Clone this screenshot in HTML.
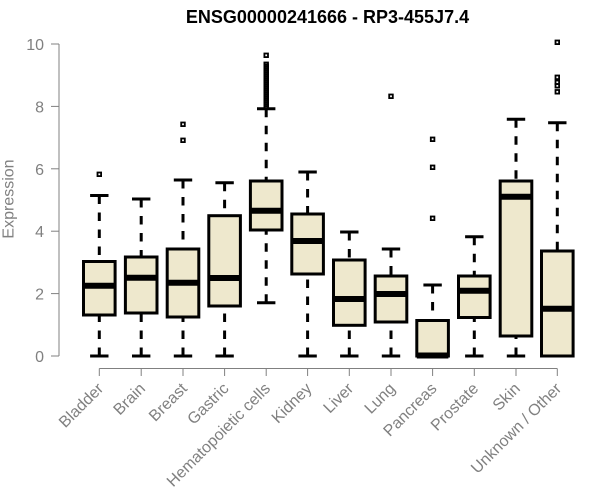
<!DOCTYPE html>
<html><head><meta charset="utf-8"><style>
html,body{margin:0;padding:0;background:#fff;}
svg{display:block;}
text{font-family:"Liberation Sans",Arial,sans-serif;}
</style></head><body>
<svg width="600" height="500" viewBox="0 0 600 500" xmlns="http://www.w3.org/2000/svg">
<rect width="600" height="500" fill="#fff"/>
<text x="327.5" y="23" font-size="18" font-weight="bold" text-anchor="middle" fill="#000">ENSG00000241666 - RP3-455J7.4</text>

<!-- Y axis -->
<g stroke="#808080" stroke-width="1" fill="none">
<line x1="59" y1="44" x2="59" y2="356"/>
<line x1="51" y1="356" x2="59" y2="356"/>
<line x1="51" y1="293.6" x2="59" y2="293.6"/>
<line x1="51" y1="231.2" x2="59" y2="231.2"/>
<line x1="51" y1="168.8" x2="59" y2="168.8"/>
<line x1="51" y1="106.4" x2="59" y2="106.4"/>
<line x1="51" y1="44" x2="59" y2="44"/>
</g>
<g font-size="16" fill="#808080" text-anchor="end">
<text x="44" y="362">0</text>
<text x="44" y="299.6">2</text>
<text x="44" y="237.2">4</text>
<text x="44" y="174.8">6</text>
<text x="44" y="112.4">8</text>
<text x="44" y="50">10</text>
</g>
<text transform="translate(13.5,199) rotate(-90)" font-size="16" fill="#808080" text-anchor="middle">Expression</text>

<!-- X axis -->
<g stroke="#808080" stroke-width="1" fill="none">
<line x1="99.3" y1="368.5" x2="557.3" y2="368.5"/>
<line x1="99.3" y1="368.5" x2="99.3" y2="376"/>
<line x1="141.2" y1="368.5" x2="141.2" y2="376"/>
<line x1="183" y1="368.5" x2="183" y2="376"/>
<line x1="224.6" y1="368.5" x2="224.6" y2="376"/>
<line x1="266.2" y1="368.5" x2="266.2" y2="376"/>
<line x1="307.6" y1="368.5" x2="307.6" y2="376"/>
<line x1="349.3" y1="368.5" x2="349.3" y2="376"/>
<line x1="391" y1="368.5" x2="391" y2="376"/>
<line x1="432.6" y1="368.5" x2="432.6" y2="376"/>
<line x1="474.3" y1="368.5" x2="474.3" y2="376"/>
<line x1="516" y1="368.5" x2="516" y2="376"/>
<line x1="557.3" y1="368.5" x2="557.3" y2="376"/>
</g>
<g font-size="16" fill="#808080" text-anchor="end">
<text transform="translate(104.3,389.5) rotate(-45)">Bladder</text>
<text transform="translate(146.2,389.5) rotate(-45)">Brain</text>
<text transform="translate(188,389.5) rotate(-45)">Breast</text>
<text transform="translate(229.6,389.5) rotate(-45)">Gastric</text>
<text transform="translate(271.2,389.5) rotate(-45)">Hematopoietic cells</text>
<text transform="translate(312.6,389.5) rotate(-45)">Kidney</text>
<text transform="translate(354.3,389.5) rotate(-45)">Liver</text>
<text transform="translate(396,389.5) rotate(-45)">Lung</text>
<text transform="translate(437.6,389.5) rotate(-45)">Pancreas</text>
<text transform="translate(479.3,389.5) rotate(-45)">Prostate</text>
<text transform="translate(521,389.5) rotate(-45)">Skin</text>
<text transform="translate(562.3,389.5) rotate(-45)">Unknown / Other</text>
</g>

<!-- Whiskers (dashed) -->
<g stroke="#000" stroke-width="3" stroke-dasharray="8.5 8.5" fill="none">
<line x1="99.3" y1="195.5" x2="99.3" y2="261.5"/><line x1="99.3" y1="356" x2="99.3" y2="315"/>
<line x1="141.2" y1="199" x2="141.2" y2="257"/><line x1="141.2" y1="356" x2="141.2" y2="313"/>
<line x1="183" y1="180" x2="183" y2="249"/><line x1="183" y1="356" x2="183" y2="317"/>
<line x1="224.6" y1="182.7" x2="224.6" y2="215.7"/><line x1="224.6" y1="356" x2="224.6" y2="306"/>
<line x1="266.2" y1="108.7" x2="266.2" y2="181"/><line x1="266.2" y1="302.7" x2="266.2" y2="230"/>
<line x1="307.6" y1="172" x2="307.6" y2="214"/><line x1="307.6" y1="356" x2="307.6" y2="274"/>
<line x1="349.3" y1="232" x2="349.3" y2="260"/><line x1="349.3" y1="356" x2="349.3" y2="325.3"/>
<line x1="391" y1="249" x2="391" y2="276"/><line x1="391" y1="356" x2="391" y2="322"/>
<line x1="432.6" y1="285" x2="432.6" y2="320.5"/>
<line x1="474.3" y1="236.7" x2="474.3" y2="276"/><line x1="474.3" y1="356" x2="474.3" y2="317.5"/>
<line x1="516" y1="119.3" x2="516" y2="181"/><line x1="516" y1="356" x2="516" y2="336"/>
<line x1="557.3" y1="122.7" x2="557.3" y2="251"/>
</g>
<!-- Caps -->
<g stroke="#000" stroke-width="3" fill="none">
<line x1="90.1" y1="195.5" x2="108.5" y2="195.5"/><line x1="90.1" y1="356" x2="108.5" y2="356"/>
<line x1="132" y1="199" x2="150.4" y2="199"/><line x1="132" y1="356" x2="150.4" y2="356"/>
<line x1="173.8" y1="180" x2="192.2" y2="180"/><line x1="173.8" y1="356" x2="192.2" y2="356"/>
<line x1="215.4" y1="182.7" x2="233.8" y2="182.7"/><line x1="215.4" y1="356" x2="233.8" y2="356"/>
<line x1="257" y1="108.7" x2="275.4" y2="108.7"/><line x1="257" y1="302.7" x2="275.4" y2="302.7"/>
<line x1="298.4" y1="172" x2="316.8" y2="172"/><line x1="298.4" y1="356" x2="316.8" y2="356"/>
<line x1="340.1" y1="232" x2="358.5" y2="232"/><line x1="340.1" y1="356" x2="358.5" y2="356"/>
<line x1="381.8" y1="249" x2="400.2" y2="249"/><line x1="381.8" y1="356" x2="400.2" y2="356"/>
<line x1="423.4" y1="285" x2="441.8" y2="285"/>
<line x1="465.1" y1="236.7" x2="483.5" y2="236.7"/><line x1="465.1" y1="356" x2="483.5" y2="356"/>
<line x1="506.8" y1="119.3" x2="525.2" y2="119.3"/><line x1="506.8" y1="356" x2="525.2" y2="356"/>
<line x1="548.1" y1="122.7" x2="566.5" y2="122.7"/>
</g>
<!-- Boxes -->
<g stroke="#000" stroke-width="3" fill="#EEE8CD">
<rect x="83.5" y="261.5" width="31.6" height="53.5"/>
<rect x="125.4" y="257" width="31.6" height="56"/>
<rect x="167.2" y="249" width="31.6" height="68"/>
<rect x="208.8" y="215.7" width="31.6" height="90.3"/>
<rect x="250.4" y="181" width="31.6" height="49"/>
<rect x="291.8" y="214" width="31.6" height="60"/>
<rect x="333.5" y="260" width="31.6" height="65.3"/>
<rect x="375.2" y="276" width="31.6" height="46"/>
<rect x="416.8" y="320.5" width="31.6" height="35.5"/>
<rect x="458.5" y="276" width="31.6" height="41.5"/>
<rect x="500.2" y="181" width="31.6" height="155"/>
<rect x="541.5" y="251" width="31.6" height="105"/>
</g>
<!-- Medians -->
<g stroke="#000" stroke-width="6" fill="none">
<line x1="83.5" y1="285.7" x2="115.1" y2="285.7"/>
<line x1="125.4" y1="277.7" x2="157" y2="277.7"/>
<line x1="167.2" y1="282.7" x2="198.8" y2="282.7"/>
<line x1="208.8" y1="278" x2="240.4" y2="278"/>
<line x1="250.4" y1="210.7" x2="282" y2="210.7"/>
<line x1="291.8" y1="241" x2="323.4" y2="241"/>
<line x1="333.5" y1="299" x2="365.1" y2="299"/>
<line x1="375.2" y1="294" x2="406.8" y2="294"/>
<line x1="416.8" y1="355.5" x2="448.4" y2="355.5"/>
<line x1="458.5" y1="290.7" x2="490.1" y2="290.7"/>
<line x1="500.2" y1="196.7" x2="531.8" y2="196.7"/>
<line x1="541.5" y1="308.7" x2="573.1" y2="308.7"/>
</g>
<!-- Outliers -->
<g stroke="#000" stroke-width="1.8" fill="none">
<rect x="97.5" y="172.5" width="3.6" height="3.6"/>
<rect x="181.2" y="122.5" width="3.6" height="3.6"/>
<rect x="181.2" y="138.5" width="3.6" height="3.6"/>
<rect x="264.4" y="53.5" width="3.6" height="3.6"/>
<rect x="264.4" y="62.5" width="3.6" height="3.6"/>
<rect x="264.4" y="64.5" width="3.6" height="3.6"/>
<rect x="264.4" y="66.5" width="3.6" height="3.6"/>
<rect x="264.4" y="68.5" width="3.6" height="3.6"/>
<rect x="264.4" y="70.5" width="3.6" height="3.6"/>
<rect x="264.4" y="72.5" width="3.6" height="3.6"/>
<rect x="264.4" y="74.5" width="3.6" height="3.6"/>
<rect x="264.4" y="76.5" width="3.6" height="3.6"/>
<rect x="264.4" y="78.5" width="3.6" height="3.6"/>
<rect x="264.4" y="80.5" width="3.6" height="3.6"/>
<rect x="264.4" y="82.5" width="3.6" height="3.6"/>
<rect x="264.4" y="84.5" width="3.6" height="3.6"/>
<rect x="264.4" y="86.5" width="3.6" height="3.6"/>
<rect x="264.4" y="88.5" width="3.6" height="3.6"/>
<rect x="264.4" y="90.5" width="3.6" height="3.6"/>
<rect x="264.4" y="92.5" width="3.6" height="3.6"/>
<rect x="264.4" y="94.5" width="3.6" height="3.6"/>
<rect x="264.4" y="96.5" width="3.6" height="3.6"/>
<rect x="264.4" y="98.5" width="3.6" height="3.6"/>
<rect x="264.4" y="100.5" width="3.6" height="3.6"/>
<rect x="264.4" y="102.5" width="3.6" height="3.6"/>
<rect x="264.4" y="104.5" width="3.6" height="3.6"/>
<rect x="389.2" y="94.5" width="3.6" height="3.6"/>
<rect x="430.8" y="137.5" width="3.6" height="3.6"/>
<rect x="430.8" y="165.5" width="3.6" height="3.6"/>
<rect x="430.8" y="216.5" width="3.6" height="3.6"/>
<rect x="555.5" y="40.5" width="3.6" height="3.6"/>
<rect x="555.5" y="75.5" width="3.6" height="3.6"/>
<rect x="555.5" y="80.5" width="3.6" height="3.6"/>
<rect x="555.5" y="84" width="3.6" height="3.6"/>
<rect x="555.5" y="90" width="3.6" height="3.6"/>
</g>
</svg>
</body></html>
